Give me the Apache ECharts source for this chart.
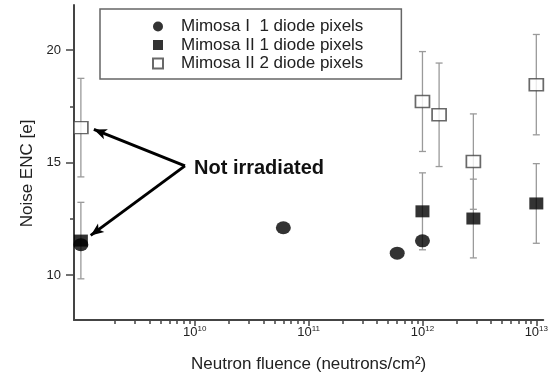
<!DOCTYPE html>
<html>
<head>
<meta charset="utf-8">
<script src="https://cdn.jsdelivr.net/npm/echarts@6/dist/echarts.min.js"></script>
<style>
  html, body { margin: 0; padding: 0; background: #fff; }
  #chart { width: 551px; height: 378px; }
</style>
</head>
<body>
<div id="chart"></div>
<script>
// Noise vs. neutron fluence for Mimosa sensors
const seriesNames = ['Mimosa I  1 diode pixels', 'Mimosa II 1 diode pixels', 'Mimosa II 2 diode pixels'];

// Mimosa I, 1 diode pixels (no error bars)
const fluenceM1 = [1e9, 6e10, 6e11, 1e12];
const noiseM1 = [11.35, 12.1, 10.97, 11.52];

// Mimosa II, 1 diode pixels
const fluenceM2a = [1e9, 1e12, 2.8e12, 1e13];
const noiseM2a = [11.53, 12.83, 12.51, 13.18];
const errM2a = [1.70, 1.71, 1.75, 1.77];

// Mimosa II, 2 diode pixels
const fluenceM2b = [1e9, 1e12, 1.4e12, 2.8e12, 1e13];
const noiseM2b = [16.55, 17.71, 17.12, 15.04, 18.46];
const errM2b = [2.19, 2.22, 2.30, 2.12, 2.23];

// Axis ranges and ticks
const xMin = 8.7e8, xMax = 1.15e13;
const yMin = 8, yMax = 22;
const xMajorTicks = [1e10, 1e11, 1e12, 1e13];
const xMinorTicks = [];
[1e9, 1e10, 1e11, 1e12].forEach(function (d) {
  for (let k = 2; k <= 9; k++) xMinorTicks.push(k * d);
});
const yMajorTicks = [10, 15, 20];
const yMinorTicks = [12.5, 17.5];

// "Not irradiated" annotation: arrows from the label towards the unirradiated points
const arrowStart = [8.2e9, 14.85];
const arrowEnds = [[1.3e9, 16.47], [1.22e9, 11.76]];

const FONT = '"Liberation Sans", Arial, Helvetica, sans-serif';
const AXIS_COLOR = '#444';
const TEXT_COLOR = '#222';

function zip(xs, ys, es) {
  return xs.map(function (x, i) { return es ? [x, ys[i], es[i]] : [x, ys[i]]; });
}

function renderErrorBar(params, api) {
  const x = api.value(0), y = api.value(1), e = api.value(2);
  const top = api.coord([x, y + e]);
  const bot = api.coord([x, y - e]);
  const hw = 3.5;
  const style = { stroke: '#9a9a9a', lineWidth: 1.3 };
  return {
    type: 'group',
    children: [
      { type: 'line', shape: { x1: top[0], y1: top[1], x2: bot[0], y2: bot[1] }, style: style },
      { type: 'line', shape: { x1: top[0] - hw, y1: top[1], x2: top[0] + hw, y2: top[1] }, style: style },
      { type: 'line', shape: { x1: bot[0] - hw, y1: bot[1], x2: bot[0] + hw, y2: bot[1] }, style: style }
    ]
  };
}

const chart = echarts.init(document.getElementById('chart'), null, { renderer: 'canvas' });

const option = {
  backgroundColor: '#fff',
  animation: false,
  textStyle: { fontFamily: FONT },
  grid: { left: 74, right: 0, top: 5, bottom: 55, containLabel: false },
  legend: {
    data: [
      { name: seriesNames[0], icon: 'circle' },
      { name: seriesNames[1], icon: 'rect' },
      { name: seriesNames[2], icon: 'rect' }
    ],
    orient: 'vertical',
    left: 100,
    top: 9,
    padding: [9, 38, 7, 52],
    itemGap: 1.5,
    itemWidth: 10,
    itemHeight: 10,
    borderColor: '#666',
    borderWidth: 1.5,
    backgroundColor: '#fff',
    textStyle: { fontFamily: FONT, fontSize: 17, color: TEXT_COLOR, padding: [0, 0, 0, 13] },
    selectedMode: false
  },
  xAxis: [
    {
      type: 'log',
      logBase: 10,
      min: xMin,
      max: xMax,
      name: 'Neutron fluence (neutrons/cm²)',
      nameLocation: 'middle',
      nameGap: 36,
      nameTextStyle: { fontFamily: FONT, fontSize: 17, color: TEXT_COLOR },
      axisLine: { show: true, lineStyle: { color: AXIS_COLOR, width: 2 } },
      axisTick: { show: true, length: 6, customValues: xMajorTicks, lineStyle: { color: AXIS_COLOR, width: 1.5 } },
      axisLabel: {
        customValues: xMajorTicks,
        margin: 5,
        color: TEXT_COLOR,
        formatter: function (v) {
          return '{b|10}{s|' + Math.round(Math.log10(v)) + '}';
        },
        rich: {
          b: { fontFamily: FONT, fontSize: 13, color: TEXT_COLOR, verticalAlign: 'bottom' },
          s: { fontFamily: FONT, fontSize: 8, color: TEXT_COLOR, verticalAlign: 'top', padding: [0, 0, 6, 0] }
        }
      },
      splitLine: { show: false },
      minorTick: { show: false }
    },
    {
      type: 'log',
      logBase: 10,
      min: xMin,
      max: xMax,
      gridIndex: 0,
      position: 'bottom',
      axisLine: { show: false },
      axisTick: { show: true, length: 4, customValues: xMinorTicks, lineStyle: { color: AXIS_COLOR, width: 1.5 } },
      axisLabel: { show: false },
      splitLine: { show: false }
    }
  ],
  yAxis: [
    {
      type: 'value',
      min: yMin,
      max: yMax,
      name: 'Noise ENC [e]',
      nameLocation: 'middle',
      nameGap: 38,
      nameTextStyle: { fontFamily: FONT, fontSize: 17, color: TEXT_COLOR, padding: [0, 22, 0, 0] },
      axisLine: { show: true, lineStyle: { color: AXIS_COLOR, width: 2 } },
      axisTick: { show: true, length: 8, customValues: yMajorTicks, lineStyle: { color: AXIS_COLOR, width: 1.5 } },
      axisLabel: { customValues: yMajorTicks, margin: 13, fontFamily: FONT, fontSize: 13, color: TEXT_COLOR },
      splitLine: { show: false }
    },
    {
      type: 'value',
      min: yMin,
      max: yMax,
      position: 'left',
      axisLine: { show: false },
      axisTick: { show: true, length: 4, customValues: yMinorTicks, lineStyle: { color: AXIS_COLOR, width: 1.5 } },
      axisLabel: { show: false },
      splitLine: { show: false }
    }
  ],
  graphic: [
    {
      type: 'text',
      x: 194,
      y: 168,
      silent: true,
      style: {
        text: 'Not irradiated',
        fontFamily: FONT,
        fontSize: 20,
        fontWeight: 'bold',
        fill: '#111',
        verticalAlign: 'middle',
        align: 'left'
      }
    }
  ],
  series: [
    {
      type: 'custom',
      renderItem: renderErrorBar,
      data: zip(fluenceM2b, noiseM2b, errM2b),
      encode: { x: 0, y: 1 },
      silent: true,
      z: 1
    },
    {
      type: 'custom',
      renderItem: renderErrorBar,
      data: zip(fluenceM2a, noiseM2a, errM2a),
      encode: { x: 0, y: 1 },
      silent: true,
      z: 1
    },
    {
      name: seriesNames[2],
      type: 'scatter',
      symbol: 'rect',
      symbolSize: [14, 12],
      itemStyle: { color: '#fff', borderColor: '#444', borderWidth: 1.6 },
      data: zip(fluenceM2b, noiseM2b),
      z: 3,
      markLine: {
        silent: true,
        animation: false,
        symbol: ['none', 'arrow'],
        symbolSize: [8, 13],
        label: { show: false },
        lineStyle: { color: '#000', width: 3, type: 'solid' },
        emphasis: { disabled: true },
        data: arrowEnds.map(function (end) {
          return [{ coord: arrowStart }, { coord: end }];
        })
      }
    },
    {
      name: seriesNames[1],
      type: 'scatter',
      symbol: 'rect',
      symbolSize: [14, 12],
      itemStyle: { color: '#000' },
      data: zip(fluenceM2a, noiseM2a),
      z: 4
    },
    {
      name: seriesNames[0],
      type: 'scatter',
      symbol: 'circle',
      symbolSize: [15, 13],
      itemStyle: { color: '#000' },
      data: zip(fluenceM1, noiseM1),
      z: 5
    }
  ]
};

chart.setOption(option);
</script>
</body>
</html>
